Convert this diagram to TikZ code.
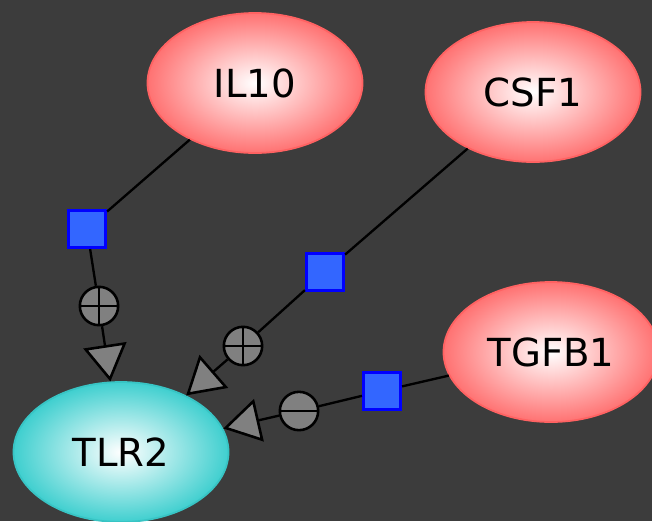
\documentclass[tikz,border=0pt]{standalone}
\usepackage{fontspec}
\setmainfont{DejaVu Sans}
\usepackage{tikz}
\usetikzlibrary{arrows.meta,shapes.geometric}
\definecolor{MapBack}{HTML}{3C3C3C}
\definecolor{MapRed}{HTML}{FF7272}
\definecolor{MapRedLine}{HTML}{FF6262}
\definecolor{MapCyan}{HTML}{3FCFCF}
\definecolor{MapCyanLine}{HTML}{38C4C4}
\definecolor{MapBlue}{HTML}{3366FF}
\definecolor{MapBlueLine}{HTML}{0000FF}
\definecolor{MapGrey}{HTML}{808080}

\tikzset{
  species/.style={ellipse,minimum width=6.45cm,minimum height=4.2cm,inner sep=0pt,
    line width=1.5pt,shading=radial,inner color=white,
    font=\fontsize{33}{36}\selectfont},
  ligand/.style={species,draw=MapRedLine,outer color=MapRed},
  receptor/.style={species,draw=MapCyanLine,outer color=MapCyan},
  process/.style={rectangle,minimum size=1.1cm,inner sep=0pt,fill=MapBlue,
    draw=MapBlueLine,line width=3pt},
  logic/.style={circle,minimum size=1.15cm,inner sep=0pt,fill=MapGrey,draw=black,
    line width=2.2pt},
  logicplus/.style={logic,path picture={
    \draw[line width=2.4pt] (path picture bounding box.north)--(path picture bounding box.south);
    \draw[line width=2.4pt] (path picture bounding box.west)--(path picture bounding box.east);}},
  logicminus/.style={logic,path picture={
    \draw[line width=2.4pt] (path picture bounding box.west)--(path picture bounding box.east);}},
  link/.style={draw=black,line width=2pt},
  stim/.style={link,-{Triangle[length=1.1cm,width=1.3cm,fill=MapGrey,line width=2.2pt]}}
}

\begin{document}
\begin{tikzpicture}[x=0.03cm,y=-0.03cm]
    \fill[MapBack] (0,0) rectangle (652,521);
    \useasboundingbox (0,0) rectangle (652,521);
    % species
    \node[ligand] (il10) at (255,83) {IL10};
    \node[ligand] (csf1) at (533,92) {CSF1};
    \node[ligand] (tgfb1) at (551,352) {TGFB1};
    \node[receptor] (tlr2) at (121,452) {TLR2};
    % processes
    \node[process] (pil10) at (87,229) {};
    \node[process] (pcsf1) at (325,272) {};
    \node[process] (ptgfb1) at (382,391) {};
    \node[logicplus] (andil10) at (99,306) {};
    \node[logicplus] (andcsf1) at (243,346) {};
    \node[logicminus] (nottgfb1) at (299,411) {};
    % arcs
    \draw[link] (il10)--(pil10);
    \draw[link] (pil10)--(andil10);
    \draw[stim] (andil10)--(tlr2);
    \draw[link] (csf1)--(pcsf1);
    \draw[link] (pcsf1)--(andcsf1);
    \draw[stim] (andcsf1)--(tlr2);
    \draw[link] (tgfb1)--(ptgfb1);
    \draw[link] (ptgfb1)--(nottgfb1);
    \draw[stim] (nottgfb1)--(tlr2);
  \end{tikzpicture}
\end{document}
